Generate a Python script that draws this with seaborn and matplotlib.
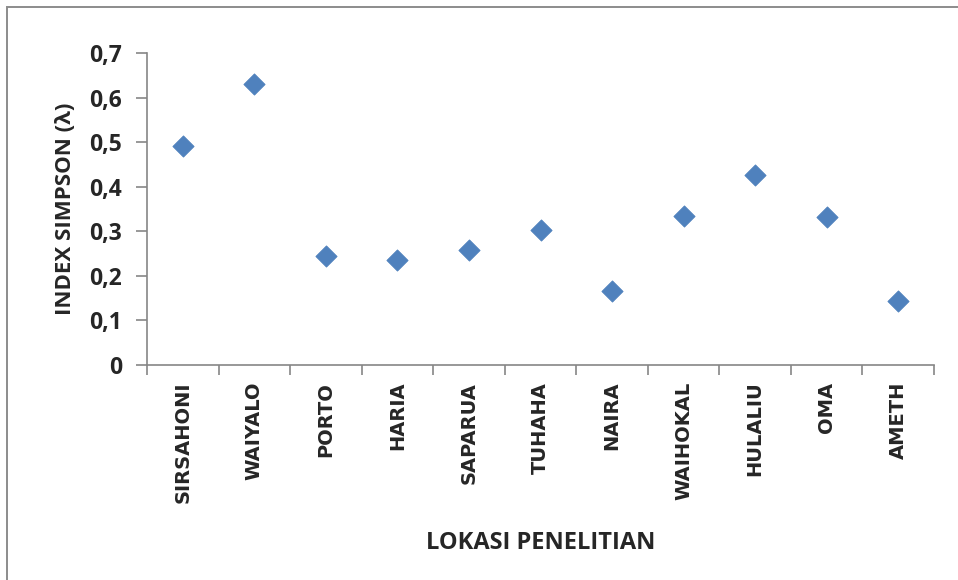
import matplotlib
matplotlib.use("Agg")
import matplotlib.pyplot as plt
import matplotlib.patches as mpatches
from matplotlib import font_manager
from matplotlib.ticker import FixedLocator, FuncFormatter
import seaborn as sns
import pandas as pd

# Simpson index per research location
lokasi = ["SIRSAHONI", "WAIYALO", "PORTO", "HARIA", "SAPARUA", "TUHAHA",
          "NAIRA", "WAIHOKAL", "HULALIU", "OMA", "AMETH"]
indeks = [0.491, 0.631, 0.245, 0.236, 0.259, 0.304,
          0.165, 0.335, 0.426, 0.333, 0.144]
y_ticks = [0, 0.1, 0.2, 0.3, 0.4, 0.5, 0.6, 0.7]

df = pd.DataFrame({"lokasi": lokasi, "indeks": indeks})

sns.set_theme(style="white")
plt.rcParams["font.family"] = ["Open Sans", "DejaVu Sans"]

# narrow face for the axis titles when it is available
installed = {f.name for f in font_manager.fontManager.ttflist}
if "Liberation Sans Narrow" in installed:
    title_family = ["Liberation Sans Narrow", "DejaVu Sans"]
    xtitle_size, ytitle_size = 19.5, 19.5
else:
    title_family = ["Open Sans", "DejaVu Sans"]
    xtitle_size, ytitle_size = 17, 16

fig = plt.figure(figsize=(9.58, 5.80), dpi=100)
ax = fig.add_axes([0.1534, 0.3707, 0.975 - 0.1534, 0.9086 - 0.3707])

sns.scatterplot(data=df, x="lokasi", y="indeks", ax=ax, marker="D",
                s=118, color="#4F81BD", edgecolor="#4A7EBB", linewidth=0.5,
                zorder=3)

n = len(lokasi)
ax.set_xlim(-0.5, n - 0.5)
ax.set_ylim(0, 0.7)

spine_color = "#868686"
for side in ("top", "right"):
    ax.spines[side].set_visible(False)
for side in ("left", "bottom"):
    ax.spines[side].set_color(spine_color)
    ax.spines[side].set_linewidth(1.2)

# category labels centred, tick marks on category boundaries
ax.set_xticks(range(n))
ax.set_xticklabels(lokasi, rotation=90, fontweight="bold", fontsize=14,
                   family=["DejaVu Sans"])
ax.xaxis.set_minor_locator(FixedLocator([i - 0.5 for i in range(n + 1)]))
ax.tick_params(axis="x", which="major", length=0, pad=12)
ax.tick_params(axis="x", which="minor", length=7, width=1.2, color=spine_color,
               direction="out", bottom=True)

ax.set_yticks(y_ticks)
ax.yaxis.set_major_formatter(FuncFormatter(
    lambda v, _: "0" if abs(v) < 1e-9 else f"{v:.1f}".replace(".", ",")))
ax.tick_params(axis="y", which="major", length=8, width=1.2, color=spine_color,
               direction="out", left=True, labelsize=16.5, pad=10)
for lbl in ax.get_yticklabels():
    lbl.set_fontweight("bold")
    lbl.set_va("center_baseline")

ax.set_xlabel("LOKASI PENELITIAN", fontsize=xtitle_size, fontweight="bold",
              family=title_family, va="center")
ax.set_ylabel("INDEX SIMPSON (λ)", fontsize=ytitle_size, fontweight="bold",
              family=title_family, va="center")
ax.xaxis.set_label_coords(0.5, (543 - 365) / -312)
ax.yaxis.set_label_coords((66 - 147) / 787, 0.5)

# chart frame
fig.patches.append(mpatches.Rectangle((7 / 958, -0.05), 1.2, 1 - 7 / 580 + 0.05,
                                      transform=fig.transFigure, fill=False,
                                      edgecolor="#8C8C8C", linewidth=1.4))

fig.savefig("out.png", dpi=100)
